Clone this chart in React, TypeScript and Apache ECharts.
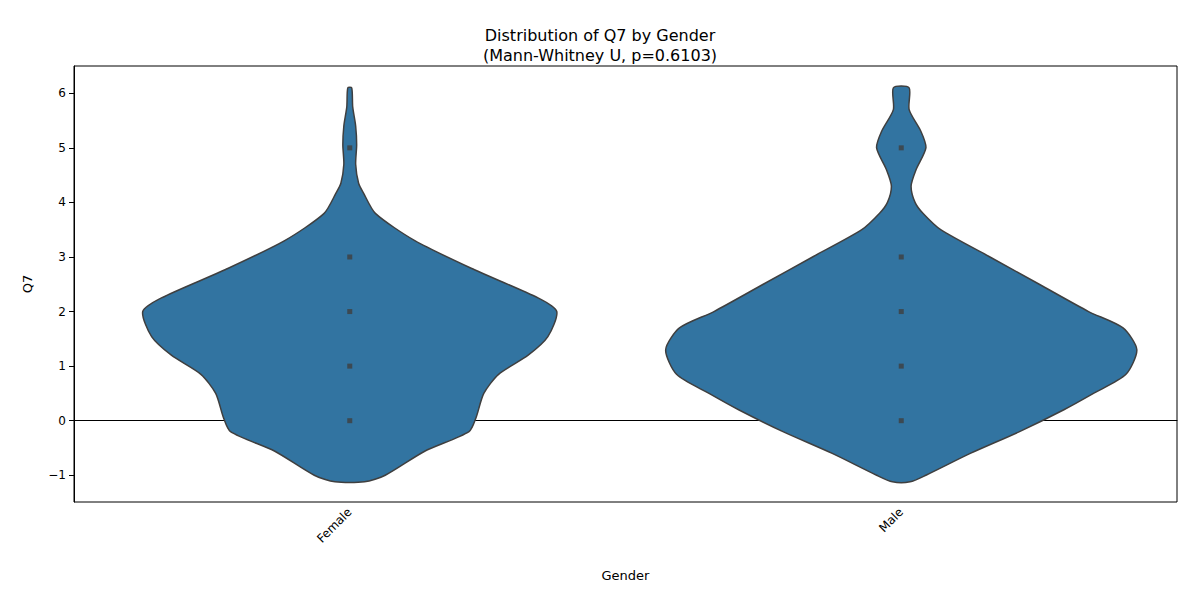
import { useRef, useEffect } from "react"
import * as echarts from "echarts"

const categories = ["Female", "Male"]
const yTicks = [-1, 0, 1, 2, 3, 4, 5, 6]
// violin outline: y positions and half-widths (px at 1200 wide, band = 559.5)
const femaleY = [-1.12, -1.0, -0.56, -0.2, 0.05, 0.5, 0.85, 1.2, 1.54, 2.0, 2.25, 2.77, 3.3, 3.8, 4.17, 4.35, 4.7, 5.05, 5.4, 5.75, 6.1]
const femaleW = [15, 36, 76, 121, 128, 136, 151, 181, 201, 210, 191, 126, 66, 26, 14, 9, 6, 7, 6, 3, 2]
const maleY = [-1.12, -1.0, -0.6, -0.2, 0.2, 0.5, 0.85, 1.3, 1.7, 2.0, 2.5, 3.0, 3.5, 3.8, 4.0, 4.3, 4.6, 5.0, 5.3, 5.7, 6.1]
const maleW = [9, 25, 70, 120, 165, 195, 228, 239, 225, 190, 140, 90, 40, 22, 14, 10, 15, 25, 20, 8, 8]
const femalePoints = [0, 1, 2, 3, 5]
const malePoints = [0, 1, 2, 3, 5]

export default function App() {
  const ref = useRef<HTMLDivElement>(null)
  useEffect(() => {
    if (!ref.current) return
    const chart = echarts.init(ref.current, null, { renderer: "svg" })
    const shapes = [
      { ys: femaleY, ws: femaleW },
      { ys: maleY, ws: maleW },
    ]
    chart.setOption({
      animation: false,
      textStyle: { fontFamily: "DejaVu Sans" },
      title: {
        text: "Distribution of Q7 by Gender\n(Mann-Whitney U, p=0.6103)",
        left: "center",
        top: 12,
        textStyle: { fontSize: 16, fontWeight: "normal", color: "#000", lineHeight: 20 },
      },
      grid: { left: 66, right: 15, top: 58, bottom: 90, show: true, borderColor: "#000", borderWidth: 1 },
      xAxis: {
        type: "category",
        data: categories,
        name: "Gender",
        nameLocation: "middle",
        nameGap: 67,
        nameTextStyle: { fontSize: 13, color: "#000" },
        axisLine: { lineStyle: { color: "#000" } },
        axisTick: { alignWithLabel: true, length: 5, lineStyle: { color: "#000" } },
        axisLabel: { rotate: 45, fontSize: 12, color: "#000", margin: 8 },
      },
      yAxis: {
        type: "value",
        min: -1.49,
        max: 6.5,
        name: "Q7",
        nameLocation: "middle",
        nameGap: 40,
        nameTextStyle: { fontSize: 13, color: "#000" },
        splitLine: { show: false },
        axisLine: { show: true, lineStyle: { color: "#000" } },
        axisTick: { show: true, length: 5, customValues: yTicks, lineStyle: { color: "#000" } },
        axisLabel: {
          customValues: yTicks,
          fontSize: 12,
          color: "#000",
          formatter: (v: number) => (v < 0 ? "\u2212" + Math.abs(v) : String(v)),
        },
      },
      series: [
        {
          type: "custom",
          data: [[0], [1]],
          renderItem: (params: any, api: any) => {
            const idx = api.value(0)
            const s = shapes[idx]
            const band = api.size([1, 0])[0]
            const scale = band / 559.5
            const left: number[][] = []
            const right: number[][] = []
            s.ys.forEach((y, i) => {
              const c = api.coord([idx, y])
              left.push([c[0] - s.ws[i] * scale, c[1]])
              right.push([c[0] + s.ws[i] * scale, c[1]])
            })
            const pts = left.concat(right.reverse())
            return {
              type: "polygon",
              shape: { points: pts, smooth: 0.25 },
              style: { fill: "#3274a1", stroke: "#3f3f3f", lineWidth: 1.5 },
            }
          },
        },
        {
          type: "scatter",
          symbol: "rect",
          symbolSize: 5,
          itemStyle: { color: "#3f3f3f" },
          data: [
            ...femalePoints.map((v) => [0, v]),
            ...malePoints.map((v) => [1, v]),
          ],
          z: 5,
        },
      ],
    })
    return () => chart.dispose()
  }, [])
  return <div ref={ref} style={{ width: 1184, height: 584 }} />
}
